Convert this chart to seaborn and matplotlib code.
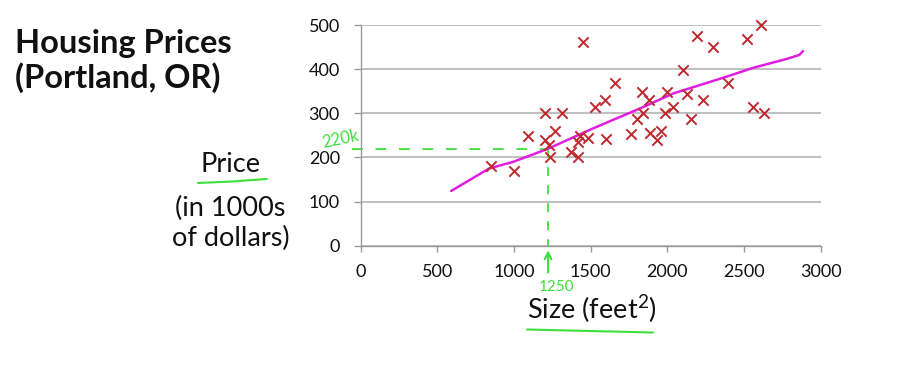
import matplotlib
matplotlib.use("Agg")
import matplotlib.pyplot as plt
from matplotlib.lines import Line2D
import seaborn as sns
import pandas as pd

# house size (feet^2) and price (in $1000s)
size_sqft = [850, 1000, 1090, 1200, 1200, 1225, 1235, 1265, 1310, 1370,
             1420, 1420, 1430, 1485, 1450, 1530, 1595, 1600, 1660, 1760,
             1805, 1838, 1832, 1882, 1886, 1930, 1960, 1982, 1996, 2034,
             2100, 2130, 2155, 2196, 2234, 2295, 2397, 2522, 2560, 2608, 2630]
price_k = [180, 170, 248, 300, 240, 228, 200, 260, 300, 212,
           200, 235, 248, 243, 462, 315, 329, 242, 368, 252,
           287, 300, 349, 330, 255, 240, 260, 300, 349, 315,
           398, 344, 287, 475, 329, 450, 368, 468, 314, 500, 300]

# hand-drawn fit curve
fit_x = [590, 838, 995, 1224, 1517, 1822, 2039, 2387, 2560, 2777, 2860, 2885]
fit_y = [124, 175, 190, 220, 266, 311, 345, 383, 403, 423, 432, 441]

# green read-off annotation
query_size = 1222
query_price = 220

x_ticks = [0, 500, 1000, 1500, 2000, 2500, 3000]
y_ticks = [0, 100, 200, 300, 400, 500]

df = pd.DataFrame({"size": size_sqft, "price": price_k})
fit = pd.DataFrame({"size": fit_x, "price": fit_y})

sns.set_theme(style="white")
plt.rcParams["font.family"] = ["Lato", "DejaVu Sans"]
plt.rcParams["mathtext.fontset"] = "custom"
plt.rcParams["mathtext.rm"] = "Lato"
plt.rcParams["mathtext.default"] = "regular"

W, H = 898, 370
fig = plt.figure(figsize=(W / 100, H / 100), dpi=100)
ax = fig.add_axes([360.7 / W, 1 - 245.7 / H, 460 / W, 220.7 / H])

def px(x, y):
    return x / W, 1 - y / H

red = "#c0282d"
magenta = "#e01ee0"
green = "#3ee03e"
grey = "#b4b4b4"

sns.lineplot(data=fit, x="size", y="price", sort=False, color=magenta,
             lw=1.8, ax=ax, zorder=3)
sns.scatterplot(data=df, x="size", y="price", marker="x", color=red,
                s=55, linewidth=1.4, ax=ax, zorder=4, clip_on=False)

ax.set_xlim(0, 3000)
ax.set_ylim(0, 500)
ax.set_xticks(x_ticks)
ax.set_yticks(y_ticks)
ax.set_xlabel("")
ax.set_ylabel("")
ax.yaxis.grid(True, color=grey, lw=1.2)
ax.xaxis.grid(False)
for s in ["top", "right"]:
    ax.spines[s].set_visible(False)
for s in ["left", "bottom"]:
    ax.spines[s].set_color("#9a9a9a")
    ax.spines[s].set_linewidth(1.0)
ax.tick_params(axis="y", length=5, width=1, color="#9a9a9a", pad=10,
               labelsize=13, labelcolor="#111111", left=True)
ax.tick_params(axis="x", length=4.5, width=1, color="#9a9a9a", pad=9,
               labelsize=13, labelcolor="#111111", bottom=True)

# green read-off lines
ax.plot([-55, query_size], [query_price, query_price], color=green, lw=1.3,
        ls=(0, (6, 7)), clip_on=False, zorder=2)
ax.plot([query_size, query_size], [query_price, 0], color=green, lw=1.3,
        ls=(0, (5, 5)), zorder=2)
ax.annotate("", xy=(query_size, -4), xytext=(0, -20), textcoords="offset points",
            arrowprops=dict(arrowstyle="->", color=green, lw=1.5), annotation_clip=False)
ax.annotate("1250", xy=(query_size, 0), xytext=(6, -30), textcoords="offset points",
            ha="center", va="center", color=green, fontsize=11, annotation_clip=False)
ax.annotate("220k", xy=(0, query_price), xytext=(-15, 7), textcoords="offset points",
            ha="center", va="center", color=green, fontsize=12, rotation=12,
            annotation_clip=False)

# titles and labels
fig.text(*px(15, 53.3), "Housing Prices", fontsize=23.5, fontweight="bold",
         ha="left", va="baseline", color="#111111")
fig.text(*px(15, 88.3), "(Portland, OR)", fontsize=23.5, fontweight="bold",
         ha="left", va="baseline", color="#111111")
fig.text(*px(230.5, 171.7), "Price", fontsize=19.5, ha="center", va="baseline", color="#111111")
fig.text(*px(230.5, 216.5), "(in 1000s", fontsize=19.5, ha="center", va="baseline", color="#111111")
fig.text(*px(230.5, 246.5), "of dollars)", fontsize=19.5, ha="center", va="baseline", color="#111111")
fig.text(*px(591.5, 319), "Size (feet$^2$)", fontsize=19.5, ha="center", va="baseline", color="#111111")

# green underlines
fig.add_artist(Line2D([198 / W, 232 / W, 267 / W], [1 - 183 / H, 1 - 181.5 / H, 1 - 179 / H],
                      color=green, lw=1.5))
fig.add_artist(Line2D([527 / W, 590 / W, 653 / W], [1 - 329.5 / H, 1 - 331 / H, 1 - 332.5 / H],
                      color=green, lw=1.5))

fig.savefig("out.png", dpi=100, facecolor="white")
